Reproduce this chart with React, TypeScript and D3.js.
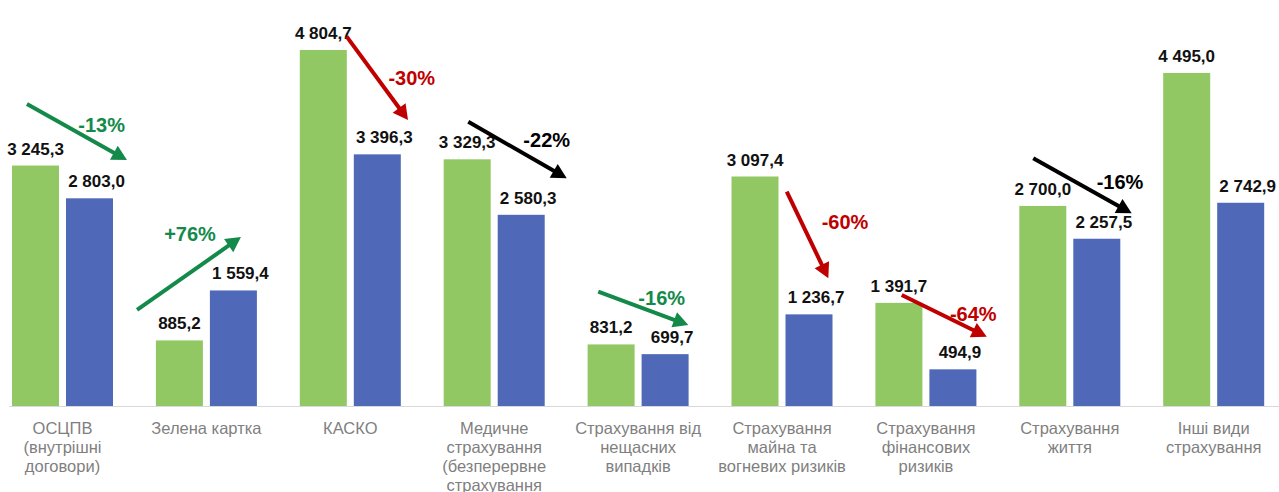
import React from "react";
import * as d3 from "d3";

const categories: string[][] = [
  ["ОСЦПВ", "(внутрішні", "договори)"],
  ["Зелена картка"],
  ["КАСКО"],
  ["Медичне", "страхування", "(безперервне", "страхування"],
  ["Страхування від", "нещасних", "випадків"],
  ["Страхування", "майна та", "вогневих ризиків"],
  ["Страхування", "фінансових", "ризиків"],
  ["Страхування", "життя"],
  ["Інші види", "страхування"],
];

const seriesPrev: number[] = [3245.3, 885.2, 4804.7, 3329.3, 831.2, 3097.4, 1391.7, 2700.0, 4495.0];
const seriesCurr: number[] = [2803.0, 1559.4, 3396.3, 2580.3, 699.7, 1236.7, 494.9, 2257.5, 2742.9];

// change arrows: category index, label, colour kind, start/end in (band fraction, value units), label anchor
const arrowCats: number[] = [0, 1, 2, 3, 4, 5, 6, 7];
const arrowLabels: string[] = ["-13%", "+76%", "-30%", "-22%", "-16%", "-60%", "-64%", "-16%"];
const arrowKinds: string[] = ["green", "green", "red", "black", "green", "red", "red", "black"];
const arrowStartX: number[] = [-0.247, -0.482, -0.025, -0.18, -0.277, 0.033, -0.168, -0.254];
const arrowStartV: number[] = [4076, 1296, 4985, 3837, 1543, 2893, 1498, 3343];
const arrowEndX: number[] = [0.448, 0.24, 0.401, 0.504, 0.349, 0.322, 0.423, 0.43];
const arrowEndV: number[] = [3320, 2281, 3860, 3073, 1093, 1724, 935, 2601];
const labelX: number[] = [0.272, -0.114, 0.427, 0.365, 0.164, 0.438, 0.329, 0.349];
const labelV: number[] = [3793, 2321, 4423, 3590, 1454, 2488, 1251, 3027];

const fmt = (v: number) => {
  const [i, d] = v.toFixed(1).split(".");
  return i.replace(/\B(?=(\d{3})+(?!\d))/g, " ") + "," + d;
};

const COLORS: Record<string, string> = { green: "#148a4a", red: "#c00000", black: "#000000" };
const GREEN = "#92c863";
const BLUE = "#4f68b7";
const FONT = "'Liberation Sans', Arial, sans-serif";

export default function App() {
  const W = 1279;
  const H = 492;
  const idx = categories.map((_, i) => String(i));
  const x0 = d3.scaleBand<string>().domain(idx).range([-9.45, -9.45 + 9 * 143.9]).padding(0);
  const step = x0.step();
  const x1 = d3
    .scaleBand<string>()
    .domain(["prev", "curr"])
    .range([21.45, 122.45])
    .paddingInner(0.1296)
    .paddingOuter(0);
  const y = d3.scaleLinear().domain([0, 4804.7]).range([406, 50]);
  const center = (i: number) => (x0(String(i)) as number) + step / 2;

  const arrows = arrowCats.map((c, k) => {
    const xs = center(c) + arrowStartX[k] * step;
    const ys = y(arrowStartV[k]);
    const xe = center(c) + arrowEndX[k] * step;
    const ye = y(arrowEndV[k]);
    const ang = Math.atan2(ye - ys, xe - xs);
    const headL = 15;
    const headW = 8;
    const bx = xe - headL * Math.cos(ang);
    const by = ye - headL * Math.sin(ang);
    const px = -Math.sin(ang) * headW;
    const py = Math.cos(ang) * headW;
    const head = d3.path();
    head.moveTo(xe, ye);
    head.lineTo(bx + px, by + py);
    head.lineTo(bx - px, by - py);
    head.closePath();
    return {
      k,
      xs,
      ys,
      bx: xe - (headL - 2) * Math.cos(ang),
      by: ye - (headL - 2) * Math.sin(ang),
      head: head.toString(),
      color: COLORS[arrowKinds[k]],
      lx: center(c) + labelX[k] * step,
      ly: y(labelV[k]),
      label: arrowLabels[k],
    };
  });

  return (
    <svg width={W} height={H} style={{ position: "absolute", left: 0, top: 0, background: "#fff" }}>
      <rect x={0} y={0} width={W} height={H} fill="#fff" />
      <line x1={9} x2={W} y1={406.5} y2={406.5} stroke="#d9d9d9" strokeWidth={1} />
      {categories.map((lines, i) => {
        const gx = x0(String(i)) as number;
        const p = seriesPrev[i];
        const c = seriesCurr[i];
        const xp = gx + (x1("prev") as number);
        const xc = gx + (x1("curr") as number);
        const bw = x1.bandwidth();
        return (
          <g key={i}>
            <rect x={xp} y={y(p)} width={bw} height={y(0) - y(p)} fill={GREEN} />
            <rect x={xc} y={y(c)} width={bw} height={y(0) - y(c)} fill={BLUE} />
            <text
              x={xp + bw / 2}
              y={y(p) - 11}
              textAnchor="middle"
              fontFamily={FONT}
              fontWeight="bold"
              fontSize={17}
              fill="#111"
            >
              {fmt(p)}
            </text>
            <text
              x={xc + bw / 2 + 7}
              y={y(c) - 11}
              textAnchor="middle"
              fontFamily={FONT}
              fontWeight="bold"
              fontSize={17}
              fill="#111"
            >
              {fmt(c)}
            </text>
            {lines.map((ln, j) => (
              <text
                key={j}
                x={center(i)}
                y={433.5 + j * 19.3}
                textAnchor="middle"
                fontFamily={FONT}
                fontSize={16.5}
                fill="#7f7f7f"
              >
                {ln}
              </text>
            ))}
          </g>
        );
      })}
      {arrows.map((a) => (
        <g key={a.k}>
          <line x1={a.xs} y1={a.ys} x2={a.bx} y2={a.by} stroke={a.color} strokeWidth={4} />
          <path d={a.head} fill={a.color} />
          <text
            x={a.lx}
            y={a.ly}
            dy="0.36em"
            textAnchor="middle"
            fontFamily={FONT}
            fontWeight="bold"
            fontSize={20}
            fill={a.color}
          >
            {a.label}
          </text>
        </g>
      ))}
    </svg>
  );
}
